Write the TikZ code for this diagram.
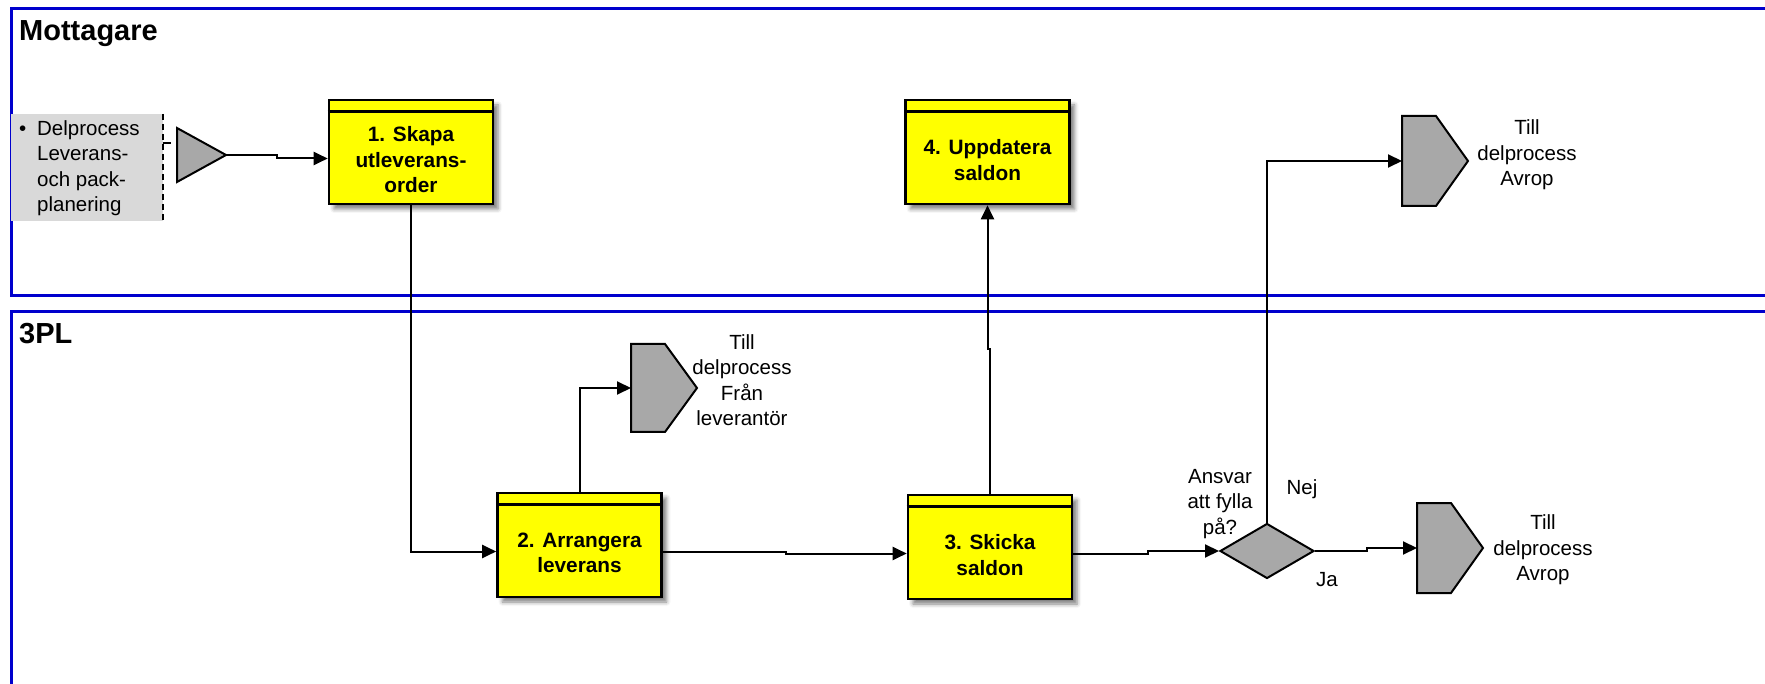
\documentclass[tikz,border=0pt]{standalone}
\usepackage{fontspec}
\setmainfont{Liberation Sans}
\usetikzlibrary{arrows.meta,shapes.geometric,shadows.blur,calc}
\definecolor{laneblue}{RGB}{0,0,205}
\definecolor{boxyellow}{RGB}{255,255,0}
\definecolor{srcgray}{RGB}{217,217,217}
\definecolor{shapegray}{RGB}{168,168,168}
\begin{document}
\begin{tikzpicture}[x=1pt,y=-1pt,
  lane/.style={draw=laneblue,line width=3pt},
  lanetitle/.style={font=\fontsize{29}{33}\selectfont\bfseries,anchor=base west,inner sep=0pt},
  procbox/.style={draw=black,line width=2.6pt,fill=boxyellow,minimum width=164pt,minimum height=104pt,inner sep=0pt,
    blur shadow={shadow xshift=5pt,shadow yshift=-5pt,shadow opacity=50,shadow blur radius=4pt}},
  proctext/.style={font=\fontsize{20.8}{25.5}\selectfont\bfseries,align=center,inner sep=0pt},
  lbl/.style={font=\fontsize{20.5}{25.5}\selectfont,align=center,inner sep=0pt},
  conn/.style={draw=black,line width=2pt},
  arr/.style={conn,-{Triangle[length=14pt,width=13pt]}},
  shapeline/.style={draw=black,line width=2pt,fill=shapegray,line join=miter},
  hdr/.style={draw=black,line width=2.6pt},
  ghost/.style={inner sep=0pt,outer sep=0pt}
]
\useasboundingbox (0,0) rectangle (1765,684);
\clip (0,0) rectangle (1765,684);

% lanes
\draw[lane] (11,9) rectangle (1800,296);
\draw[lane] (11,312) rectangle (1800,720);
\node[lanetitle] (t1) at (19,41) {Mottagare};
\node[lanetitle] (t2) at (19,344) {3PL};

% source box
\node[fill=srcgray,minimum width=152pt,minimum height=107pt,inner sep=0pt] (src) at (87,167.5) {};
\draw[black,line width=1.6pt,dash pattern=on 6pt off 4pt] (src.north east) -- (src.south east);
\node[lbl,align=left,anchor=north west] (srctext) at (37,120) {\llap{•\hspace{11pt}}Delprocess\\Leverans-\\och pack-\\planering};
\coordinate (srctick) at (171,143);
\draw[black,line width=1.6pt] (src.east |- srctick) -- (srctick);

% start triangle
\node[ghost,minimum width=49pt,minimum height=54pt] (tri) at (201.5,155) {};
\draw[shapeline] (tri.north west) -- (tri.east) -- (tri.south west) -- cycle;

% process boxes
\node[procbox] (b1) at (411,152) {};
\draw[hdr] ([yshift=-13pt]b1.north west) -- ([yshift=-13pt]b1.north east);
\node[proctext] (b1t) at ($(b1.center)+(0,8)$) {1. Skapa\\utleverans-\\order};

\node[procbox] (b2) at (579.5,545) {};
\draw[hdr] ([yshift=-13pt]b2.north west) -- ([yshift=-13pt]b2.north east);
\node[proctext] (b2t) at ($(b2.center)+(0,8)$) {2. Arrangera\\leverans};

\node[procbox] (b3) at (990,547) {};
\draw[hdr] ([yshift=-13pt]b3.north west) -- ([yshift=-13pt]b3.north east);
\node[proctext] (b3t) at ($(b3.center)+(0,8)$) {3. Skicka\\saldon};

\node[procbox] (b4) at (987.5,152) {};
\draw[hdr] ([yshift=-13pt]b4.north west) -- ([yshift=-13pt]b4.north east);
\node[proctext] (b4t) at ($(b4.center)+(0,8)$) {4. Uppdatera\\saldon};

% off-page connectors (pentagons)
\node[ghost,minimum width=34pt,minimum height=90pt] (p1) at (1419,161) {};
\draw[shapeline] (p1.north west) -- (p1.north east) -- ($(p1.east)+(32,0)$) -- (p1.south east) -- (p1.south west) -- cycle;
\node[lbl] (p1t) at (1527,155) {Till\\delprocess\\Avrop};

\node[ghost,minimum width=34pt,minimum height=88pt] (p2) at (648,388) {};
\draw[shapeline] (p2.north west) -- (p2.north east) -- ($(p2.east)+(32,0)$) -- (p2.south east) -- (p2.south west) -- cycle;
\node[lbl] (p2t) at (742,380) {Till\\delprocess\\Från\\leverantör};

\node[ghost,minimum width=34pt,minimum height=90pt] (p3) at (1434,548) {};
\draw[shapeline] (p3.north west) -- (p3.north east) -- ($(p3.east)+(32,0)$) -- (p3.south east) -- (p3.south west) -- cycle;
\node[lbl] (p3t) at (1543,550) {Till\\delprocess\\Avrop};

% decision
\node[diamond,shapeline,minimum width=94pt,minimum height=55pt,inner sep=0pt] (d) at (1267,551) {};
\node[lbl] (dq) at (1220,504) {Ansvar\\att fylla\\på?};
\node[lbl] (nej) at (1302,489) {Nej};
\node[lbl] (ja) at (1327,580) {Ja};

% connectors
\coordinate (j1) at (987.5,349);
\draw[arr] (tri.east) -- ++(51,0) |- ([yshift=-6.5pt]b1.west);
\draw[arr] (b1.south) |- ([yshift=-6.5pt]b2.west);
\draw[arr] (b2.north) |- (p2.west);
\draw[arr] ([yshift=-6.5pt]b2.east) -- ++(123,0) |- ([yshift=-6.5pt]b3.west);
\draw[arr] (b3.north) |- (j1) -- (b4.south);
\draw[arr] ([yshift=-6.5pt]b3.east) -- ++(75,0) |- (d.west);
\draw[arr] (d.north) |- (p1.west);
\draw[arr] (d.east) -- ++(52,0) |- (p3.west);
\end{tikzpicture}
\end{document}
